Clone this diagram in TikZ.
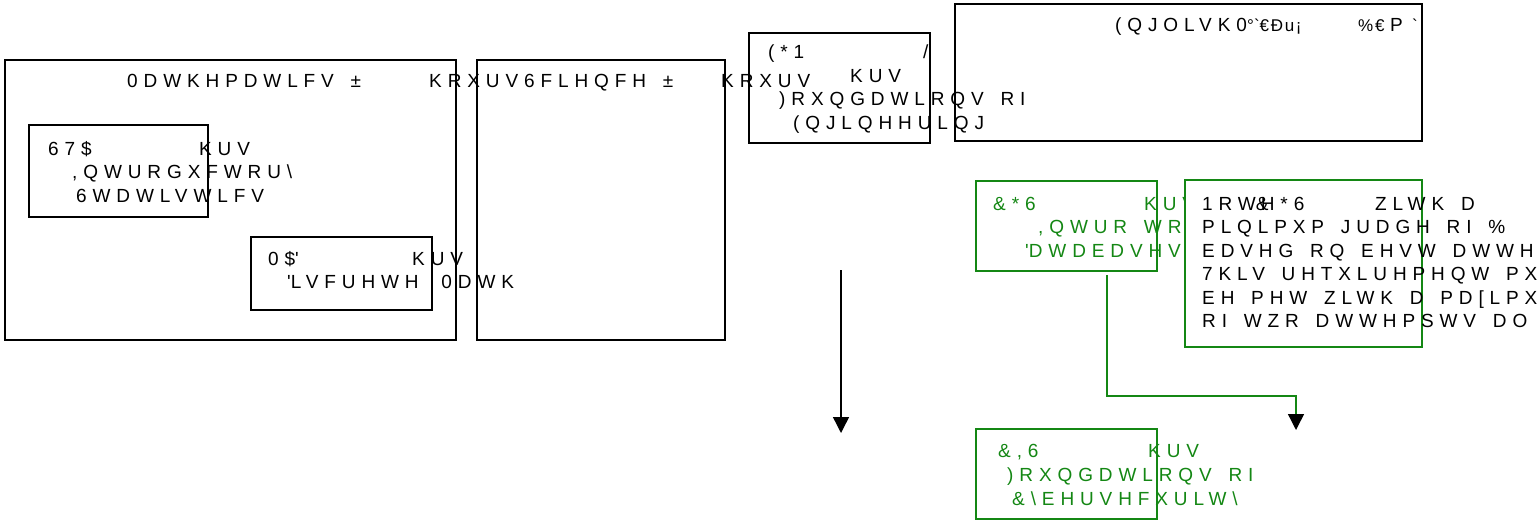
\documentclass[tikz,border=0pt]{standalone}
\usepackage{fontspec}
\setmainfont{Liberation Sans}[LetterSpace=31, WordSpace=1.5]
\newfontfamily\nls{Liberation Sans}[LetterSpace=10]
\usetikzlibrary{arrows.meta}
\definecolor{dgreen}{RGB}{20,135,20}
\begin{document}
\begin{tikzpicture}[x=1pt,y=-1pt,
  box/.style={draw=black, line width=1.4pt, inner sep=0pt},
  gbox/.style={draw=dgreen, line width=1.4pt, inner sep=0pt},
  t/.style={anchor=base west, inner sep=0pt, font=\fontsize{19}{22}\selectfont},
  nt/.style={anchor=base west, inner sep=0pt, font=\nls\fontsize{17}{20}\selectfont},
  gt/.style={t, text=dgreen},
  conn/.style={line width=1.4pt}]
\useasboundingbox (0,0) rectangle (1538,523);
% boxes
\node[box, minimum width=451pt, minimum height=280pt] (A) at (230.5,200) {};
\node[box, minimum width=248pt, minimum height=280pt] (B) at (601,200) {};
\node[box, minimum width=181pt, minimum height=110pt] (C) at (839.5,88) {};
\node[box, minimum width=467pt, minimum height=137pt] (D) at (1188.5,72.5) {};
\node[box, minimum width=179pt, minimum height=92pt] (STA) at (118.5,171) {};
\node[box, minimum width=181pt, minimum height=73pt] (MAD) at (341.5,273.5) {};
\node[gbox, minimum width=181pt, minimum height=90pt] (CGS) at (1066.5,226) {};
\node[gbox, minimum width=181pt, minimum height=90pt] (CIS) at (1066.5,474) {};
% title row
\node[t] (t1) at (127,87) {0DWKHPDWLFV ±};
\node[t] (t2) at (429,87) {KRXUV6FLHQFH ±};
\node[t] (t3) at (721,87) {KRXUV};
% box C
\node[t] (c1) at (768,58) {(*1};
\node[t] (c2) at (923,58) {/};
\node[t] (c3) at (850,82) {KUV};
\node[t] (c4) at (779,105) {)RXQGDWLRQV RI};
\node[t] (c5) at (793,129) {(QJLQHHULQJ};
% box D
\node[t] (d1) at (1115,31) {(QJOLVK0};
\node[nt] (d1b) at (1247,31) {°\textasciigrave€Đu¡};
\node[nt] (d2) at (1358,31) {\%€};
\node[t] (d3) at (1390,31) {P};
\node[nt] (d4) at (1412,31) {\textasciigrave};
% STA
\node[t] (s1) at (48,155) {67\$};
\node[t] (s2) at (199,155) {KUV};
\node[t] (s3) at (72,178) {,QWURGXFWRU\textbackslash};
\node[t] (s4) at (76,202) {6WDWLVWLFV};
% MAD
\node[t] (m1) at (268,265) {0\$\textquotesingle};
\node[t] (m2) at (412,265) {KUV};
\node[t] (m3) at (287,288) {\textquotesingle LVFUHWH\hspace{6pt} 0DWK};
% CGS
\node[gt] (g1) at (993,210) {\&*6};
\node[gt] (g2) at (1144,210) {KUV};
\node[gt] (g3) at (1038,233) {,QWUR WR};
\node[gt] (g4) at (1025,257) {\textquotesingle DWDEDVHV};
% note box
\node[gbox, fill=white, minimum width=237pt, minimum height=167pt] (N) at (1303.5,263.5) {};
\node[t] (n1) at (1202,210) {1RW\makebox[0pt][l]{\&}\hspace{5pt}H*6};
\node[t] (n1b) at (1375,210) {ZLWK D};
\node[t] (n2) at (1202,233) {PLQLPXP JUDGH RI \%};
\node[t] (n3) at (1202,257) {EDVHG RQ EHVW DWWH};
\node[t] (n4) at (1202,280) {7KLV UHTXLUHPHQW PX};
\node[t] (n5) at (1202,304) {EH PHW ZLWK D PD[LPX};
\node[t] (n6) at (1202,327) {RI WZR DWWHPSWV DO};
% CIS
\node[gt] (i1) at (998,457) {\&,6};
\node[gt] (i2) at (1148,457) {KUV};
\node[gt] (i3) at (1007,481) {)RXQGDWLRQV RI};
\node[gt] (i4) at (1012,505) {\&\textbackslash EHUVHFXULW\textbackslash};
% connectors
\coordinate (a1) at (841,270);
\coordinate (a2) at (841,433);
\draw[conn, -{Triangle[width=16pt,length=16pt]}] (a1) -- (a2);
\coordinate (gs) at (1107,275);
\coordinate (gm) at (1107,396);
\coordinate (ge) at (1296,430);
\draw[conn, draw=dgreen, -{Triangle[width=16pt,length=16pt,color=black]}] (gs) -- (gm) -| (ge);
\end{tikzpicture}
\end{document}
